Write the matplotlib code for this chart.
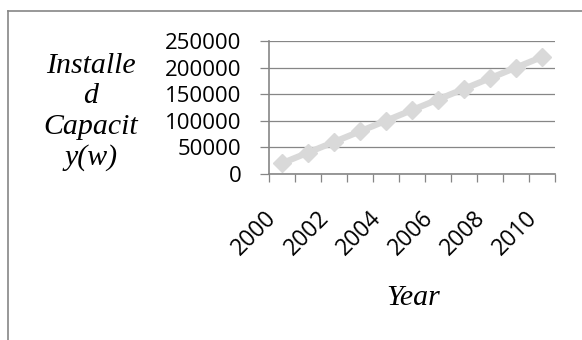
import matplotlib.pyplot as plt
from matplotlib.lines import Line2D

# data
years = [2000, 2001, 2002, 2003, 2004, 2005, 2006, 2007, 2008, 2009, 2010]
capacity = [20000, 40000, 60000, 80000, 100000, 120000, 140000, 160000,
            180000, 200000, 220000]
y_ticks = [0, 50000, 100000, 150000, 200000, 250000]

W, H = 582, 340
fig = plt.figure(figsize=(W / 100, H / 100), dpi=100)
ax = fig.add_axes([268.7 / W, 1 - 174 / H, (555 - 268.7) / W, (174 - 41) / H])

grey = '#868686'
x = list(range(len(years)))
ax.plot(x, capacity, color='#d9d9d9', linewidth=4.5, marker='D',
        markersize=9, markeredgecolor='#d9d9d9', solid_joinstyle='round',
        zorder=3, clip_on=False)

ax.set_xlim(-0.5, len(years) - 0.5)
ax.set_ylim(0, 250000)
ax.set_yticks(y_ticks)
ax.set_yticklabels([str(v) for v in y_ticks], fontsize=16, family='Open Sans')
ax.grid(True, axis='y', color=grey, linewidth=0.9)
ax.set_axisbelow(True)

# labelled years at category centres, tick marks at category edges
ax.set_xticks(x[::2])
ax.set_xticklabels([str(y) for y in years[::2]], rotation=45, ha='right',
                   fontsize=16.5, family='Open Sans')
ax.set_xticks([i - 0.5 for i in range(len(years) + 1)], minor=True)
ax.tick_params(axis='x', which='major', length=0, pad=23)
ax.tick_params(axis='x', which='minor', length=6, width=0.9, color=grey)
ax.tick_params(axis='y', length=6.5, width=0.9, color=grey, pad=13)

for s in ['top', 'right']:
    ax.spines[s].set_visible(False)
for s in ['left', 'bottom']:
    ax.spines[s].set_color(grey)
    ax.spines[s].set_linewidth(1.2)

serif = dict(family='Liberation Serif', style='italic', fontsize=21.5)
fig.text(91 / W, 1 - 112 / H, 'Installe\nd\nCapacit\ny(w)', ha='center',
         va='center', linespacing=1.23, **serif)
fig.text(413 / W, 1 - 298 / H, 'Year', ha='center', va='center', **serif)

# outer chart frame (only top and left edges are visible in the crop)
fig.add_artist(Line2D([8 / W, 1], [1 - 11 / H, 1 - 11 / H], color=grey,
                      linewidth=1.2, transform=fig.transFigure))
fig.add_artist(Line2D([8 / W, 8 / W], [0, 1 - 11 / H], color=grey,
                      linewidth=1.2, transform=fig.transFigure))

fig.savefig('out.png', dpi=100)
